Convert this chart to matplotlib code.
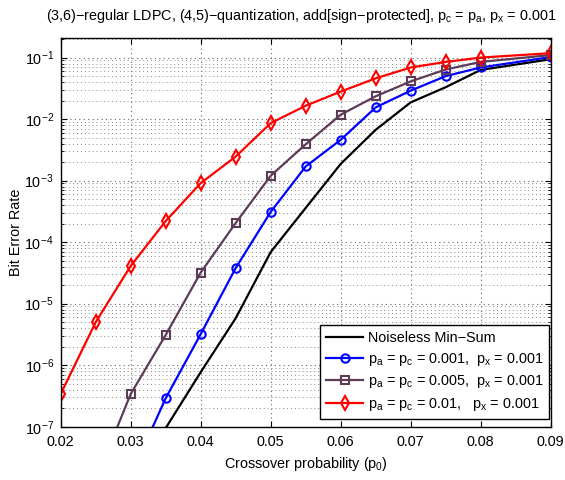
import matplotlib
matplotlib.use("Agg")
import matplotlib.pyplot as plt
import numpy as np
from matplotlib.ticker import LogLocator, NullFormatter

plt.rcParams['font.family'] = ['Liberation Sans', 'DejaVu Sans']
plt.rcParams['mathtext.fontset'] = 'custom'
plt.rcParams['mathtext.rm'] = 'Liberation Sans'
plt.rcParams['mathtext.it'] = 'Liberation Sans'
plt.rcParams['mathtext.bf'] = 'Liberation Sans:bold'

# Data
x_black = [0.03, 0.035, 0.04, 0.045, 0.05, 0.055, 0.06, 0.065, 0.07, 0.075, 0.08, 0.09]
y_black = [1.0e-8, 9.5e-8, 7.7e-7, 5.8e-6, 6.9e-5, 3.6e-4, 1.87e-3, 6.7e-3, 1.87e-2, 3.3e-2, 6.3e-2, 9.4e-2]

x_blue = [0.03, 0.035, 0.04, 0.045, 0.05, 0.055, 0.06, 0.065, 0.07, 0.075, 0.08, 0.09]
y_blue = [1.6e-8, 2.9e-7, 3.2e-6, 3.8e-5, 3.1e-4, 1.7e-3, 4.6e-3, 1.55e-2, 2.9e-2, 5.0e-2, 6.9e-2, 1.02e-1]

x_purple = [0.025, 0.03, 0.035, 0.04, 0.045, 0.05, 0.055, 0.06, 0.065, 0.07, 0.075, 0.08, 0.09]
y_purple = [1.35e-8, 3.4e-7, 3.1e-6, 3.2e-5, 2.05e-4, 1.2e-3, 3.9e-3, 1.18e-2, 2.35e-2, 4.1e-2, 6.4e-2, 8.5e-2, 1.1e-1]

x_red = [0.02, 0.025, 0.03, 0.035, 0.04, 0.045, 0.05, 0.055, 0.06, 0.065, 0.07, 0.075, 0.08, 0.09]
y_red = [3.4e-7, 5.0e-6, 4.1e-5, 2.2e-4, 9.1e-4, 2.46e-3, 8.6e-3, 1.65e-2, 2.8e-2, 4.6e-2, 6.9e-2, 8.5e-2, 1.0e-1, 1.18e-1]

x_ticks = [0.02, 0.03, 0.04, 0.05, 0.06, 0.07, 0.08, 0.09]
x_ticklabels = ['0.02', '0.03', '0.04', '0.05', '0.06', '0.07', '0.08', '0.09']

labels = ['Noiseless Min\u2212Sum',
          'p$_\\mathrm{a}$ = p$_\\mathrm{c}$ = 0.001,  p$_\\mathrm{x}$ = 0.001',
          'p$_\\mathrm{a}$ = p$_\\mathrm{c}$ = 0.005,  p$_\\mathrm{x}$ = 0.001',
          'p$_\\mathrm{a}$ = p$_\\mathrm{c}$ = 0.01,   p$_\\mathrm{x}$ = 0.001']

title = '(3,6)\u2212regular LDPC, (4,5)\u2212quantization, add[sign\u2212protected], p$_\\mathrm{c}$ = p$_\\mathrm{a}$, p$_\\mathrm{x}$ = 0.001'

FS = 10.4

fig = plt.figure(figsize=(5.65, 4.8), dpi=100)
ax = fig.add_axes([0.1074, 0.111, 0.8673, 0.809])

lw = 1.6
ax.semilogy(x_black, y_black, '-', color='black', lw=lw, label=labels[0])
ax.semilogy(x_blue, y_blue, '-o', color='#0000ff', lw=lw, ms=6, mfc='none', mew=1.5, label=labels[1])
ax.semilogy(x_purple, y_purple, '-s', color='#5c3b57', lw=lw, ms=5.5, mfc='none', mew=1.5, label=labels[2])
ax.semilogy(x_red, y_red, '-d', color='#ff0000', lw=lw, ms=7, mfc='none', mew=1.5, label=labels[3])

ax.set_xticks(x_ticks)
ax.set_xticklabels(x_ticklabels)
ax.set_xlim(0.02, 0.09)
ax.set_ylim(1e-7, 0.205)
ax.yaxis.set_major_locator(LogLocator(base=10, numticks=20))
ax.yaxis.set_minor_locator(LogLocator(base=10, subs=np.arange(2, 10), numticks=20))
ax.yaxis.set_minor_formatter(NullFormatter())
ax.xaxis.get_offset_text().set_visible(False)
ax.yaxis.get_offset_text().set_visible(False)

ax.grid(True, which='major', linestyle=(0, (1, 3)), color='#666666', lw=0.8)
ax.grid(True, which='minor', axis='y', linestyle=(0, (1, 3)), color='#888888', lw=0.7)

ax.tick_params(which='both', direction='in', top=True, right=True, labelsize=FS)
ax.tick_params(which='major', length=4, width=0.8)
ax.tick_params(axis='x', which='major', pad=6)
ax.tick_params(axis='y', which='major', pad=5)
ax.tick_params(which='minor', length=2, width=0.6)
for s in ax.spines.values():
    s.set_linewidth(1.0)

ax.set_xlabel('Crossover probability (p$_\\mathrm{0}$)', fontsize=FS, labelpad=4)
ax.set_ylabel('Bit Error Rate', fontsize=FS, labelpad=1)
ax.set_title(title, fontsize=FS, pad=13, x=0.49)

leg = ax.legend(loc='lower right', bbox_to_anchor=(0.997, 0.02), fontsize=FS, frameon=True, fancybox=False,
                edgecolor='black', framealpha=1, borderaxespad=0.0,
                handlelength=2.6, labelspacing=0.4, borderpad=0.4, handletextpad=0.3)
leg.get_frame().set_linewidth(1.0)

fig.savefig('out.png', dpi=100)
